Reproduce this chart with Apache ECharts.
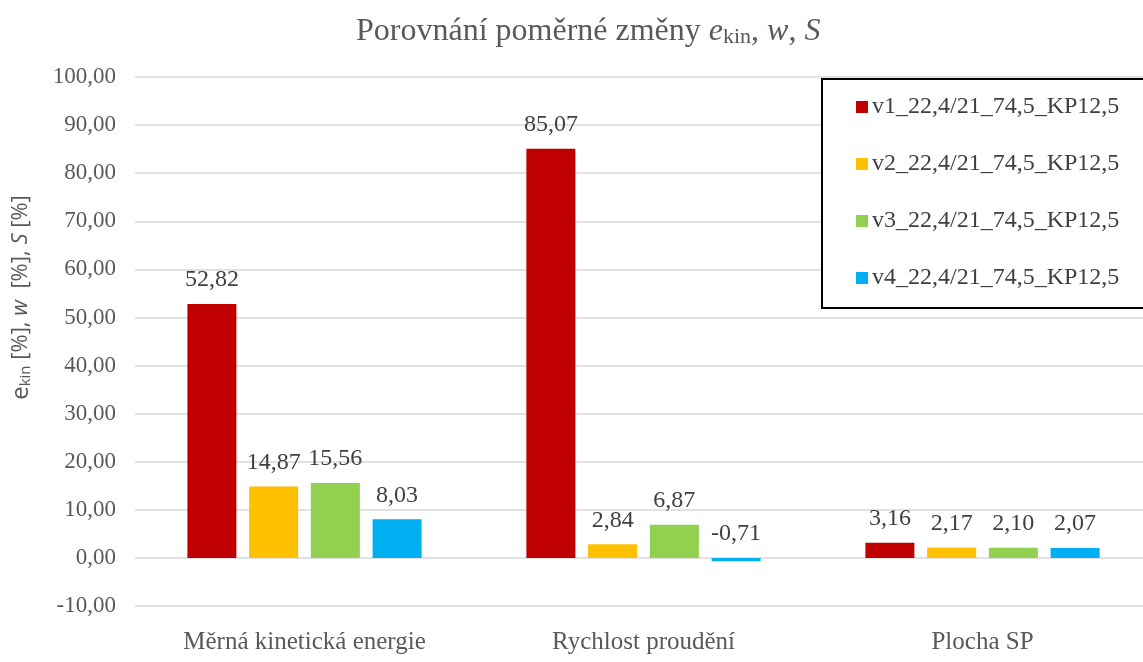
<!DOCTYPE html>
<html>
<head>
<meta charset="utf-8">
<script src="https://cdn.jsdelivr.net/npm/echarts@6/dist/echarts.min.js"></script>
<style>
  html, body { margin: 0; padding: 0; background: #fff; }
  #chart { width: 1143px; height: 662px; }
</style>
</head>
<body>
<div id="chart"></div>
<script>
// Categories and series values
const categories = ['Měrná kinetická energie', 'Rychlost proudění', 'Plocha SP'];
const seriesNames = [
  'v1_22,4/21_74,5_KP12,5',
  'v2_22,4/21_74,5_KP12,5',
  'v3_22,4/21_74,5_KP12,5',
  'v4_22,4/21_74,5_KP12,5'
];
const v1 = [52.82, 85.07, 3.16];
const v2 = [14.87, 2.84, 2.17];
const v3 = [15.56, 6.87, 2.10];
const v4 = [8.03, -0.71, 2.07];
const colors = ['#C00000', '#FFC000', '#92D050', '#00B0F0'];

const serif = '"Liberation Serif", "DejaVu Serif", serif';
const sans = '"Open Sans", "Liberation Sans", sans-serif';
const fmt = v => v.toFixed(2).replace('.', ',');

const chart = echarts.init(document.getElementById('chart'), null, { renderer: 'canvas' });

const makeSeries = (name, data, i) => ({
  name: name,
  type: 'bar',
  data: data,
  barWidth: 49,
  barGap: '26%',
  itemStyle: { color: colors[i] },
  label: {
    show: true,
    position: 'top',
    distance: 12,
    fontFamily: serif,
    fontSize: 24,
    color: '#404040',
    formatter: p => fmt(p.value)
  }
});

const titleStyle = { fontFamily: serif, fontSize: 32, color: '#595959', fontWeight: 'normal' };

chart.setOption({
  animation: false,
  title: {
    text: '{n|Porovnání poměrné změny }{i|e}{s|kin}{n|, }{i|w}{n|, }{i|S}',
    left: 351,
    top: 10,
    textStyle: {
      fontWeight: 'normal',
      rich: {
        n: titleStyle,
        i: Object.assign({}, titleStyle, { fontStyle: 'italic' }),
        s: { fontFamily: serif, fontSize: 22, color: '#595959', fontWeight: 'normal', verticalAlign: 'bottom', padding: [11, 0, 0, 0] }
      }
    }
  },
  legend: {
    orient: 'vertical',
    left: 822,
    top: 79,
    itemWidth: 12,
    itemHeight: 12,
    itemGap: 33,
    icon: 'rect',
    padding: [16, 60, 18, 34],
    borderColor: '#000',
    borderWidth: 2,
    backgroundColor: '#fff',
    textStyle: { fontFamily: serif, fontSize: 24, color: '#404040', padding: [0, 0, 0, -1] },
    data: seriesNames
  },
  grid: { left: 135, right: -9, top: 77, bottom: 56, containLabel: false, outerBoundsMode: 'none' },
  xAxis: {
    type: 'category',
    data: categories,
    axisLine: { show: false, onZero: false },
    axisTick: { show: false },
    axisLabel: { fontFamily: serif, fontSize: 25, color: '#595959', margin: 24 }
  },
  yAxis: {
    type: 'value',
    min: -10,
    max: 100,
    interval: 10,
    name: '{e|e}{s|kin}{n| [%], }{i|w}{n|  [%], }{i|S}{n| [%]}',
    nameLocation: 'middle',
    nameGap: 102,
    nameRotate: 90,
    nameTextStyle: {
      padding: [0, 0, 0, 88],
      rich: {
        e: { fontFamily: sans, fontSize: 24, color: '#595959' },
        n: { fontFamily: sans, fontSize: 22, color: '#595959' },
        i: { fontFamily: sans, fontSize: 22, color: '#595959', fontStyle: 'italic' },
        s: { fontFamily: sans, fontSize: 15, color: '#595959', verticalAlign: 'bottom', padding: [8, 0, 0, 0] }
      }
    },
    axisLine: { show: false },
    axisTick: { show: false },
    axisLabel: { fontFamily: serif, fontSize: 23, color: '#595959', margin: 19, formatter: v => fmt(v) },
    splitLine: { lineStyle: { color: '#D9D9D9', width: 1.5 } }
  },
  series: [
    makeSeries(seriesNames[0], v1, 0),
    makeSeries(seriesNames[1], v2, 1),
    makeSeries(seriesNames[2], v3, 2),
    makeSeries(seriesNames[3], v4, 3)
  ]
});
</script>
</body>
</html>
